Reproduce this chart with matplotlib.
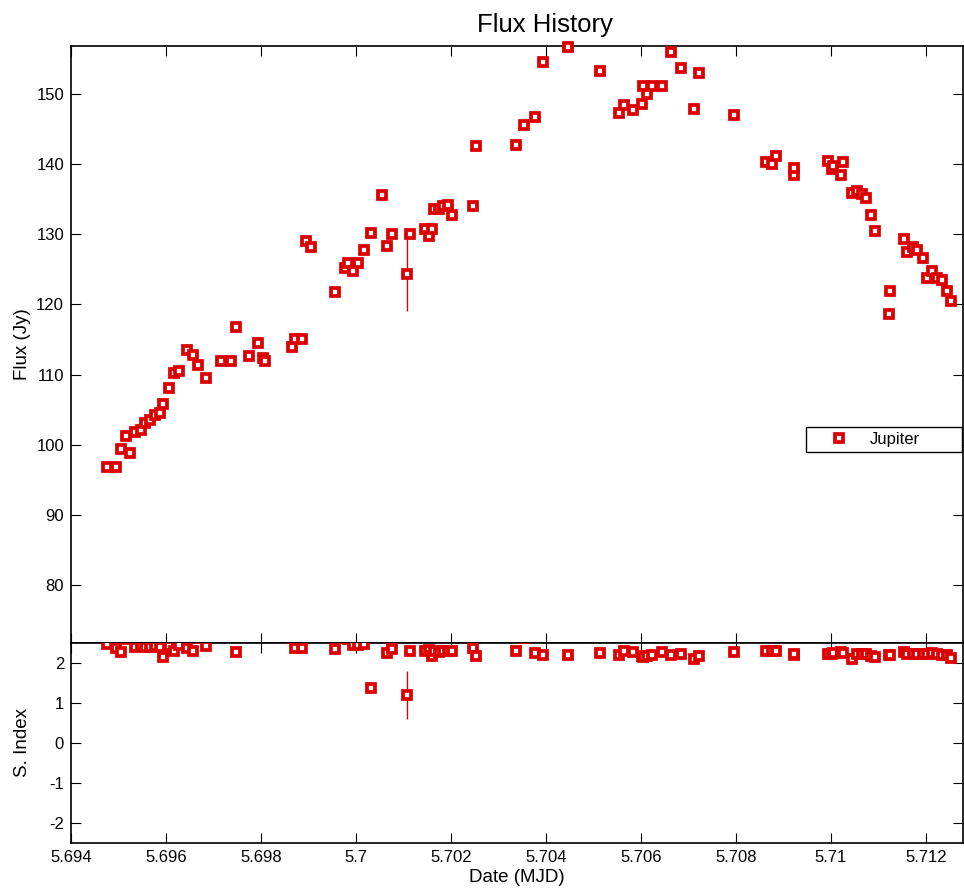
import numpy as np
from matplotlib import pyplot as plt

plt.rcParams['font.family'] = ['Liberation Sans', 'DejaVu Sans']
plt.rcParams['axes.unicode_minus'] = False

# MJD / 1e4
dates = [5.69476, 5.69495, 5.69505, 5.69515, 5.69524, 5.69535, 5.69547, 5.69556, 5.69566, 5.69577,
         5.69587, 5.69594, 5.69607, 5.69617, 5.69627, 5.69645, 5.69657, 5.69667, 5.69685, 5.69716,
         5.69736, 5.69747, 5.69775, 5.69794, 5.69804, 5.69808, 5.69865, 5.69872, 5.69887, 5.69895,
         5.69905, 5.69956, 5.69977, 5.69984, 5.69994, 5.70004, 5.70017, 5.70031, 5.70055, 5.70065,
         5.70075, 5.70107, 5.70114, 5.70146, 5.70153, 5.70159, 5.70164, 5.70174, 5.70184, 5.70194,
         5.70203, 5.70246, 5.70253, 5.70336, 5.70354, 5.70376, 5.70394, 5.70446, 5.70513, 5.70554,
         5.70564, 5.70583, 5.70603, 5.70604, 5.70613, 5.70624, 5.70644, 5.70663, 5.70684, 5.70712,
         5.70723, 5.70795, 5.70863, 5.70875, 5.70884, 5.70922, 5.70923, 5.70993, 5.71003, 5.71005,
         5.71022, 5.71025, 5.71044, 5.71054, 5.71065, 5.71074, 5.71084, 5.71093, 5.71123, 5.71124,
         5.71154, 5.71161, 5.71172, 5.71182, 5.71193, 5.71203, 5.71213, 5.71223, 5.71233, 5.71244,
         5.71253]

flux = [96.9, 96.8, 99.4, 101.3, 98.8, 101.8, 102.1, 103.1, 103.6, 104.3,
        104.5, 105.8, 108.1, 110.2, 110.5, 113.5, 112.8, 111.4, 109.5, 112.0,
        112.0, 116.8, 112.6, 114.5, 112.4, 112.0, 113.9, 115.1, 115.1, 129.0,
        128.2, 121.8, 125.2, 125.9, 124.7, 125.9, 127.7, 130.2, 135.6, 128.3,
        130.1, 124.4, 130.0, 130.7, 129.7, 130.7, 133.65, 133.6, 133.95, 134.1,
        132.7, 133.95, 142.6, 142.7, 145.6, 146.7, 154.5, 156.7, 153.3, 147.25,
        148.4, 147.7, 148.6, 151.1, 149.9, 151.05, 151.05, 155.9, 153.6, 147.9,
        153.0, 147.0, 140.3, 139.95, 141.1, 138.5, 139.4, 140.4, 139.3, 139.7,
        138.5, 140.3, 135.9, 136.2, 135.7, 135.2, 132.8, 130.5, 118.7, 121.9,
        129.25, 127.5, 128.25, 127.7, 126.6, 123.8, 124.75, 123.8, 123.5, 121.9,
        120.5]

s_index = [2.48, 2.37, 2.27, 2.60, 2.62, 2.41, 2.42, 2.40, 2.41, 2.42,
           2.41, 2.14, 2.43, 2.29, 2.45, 2.37, 2.31, 2.62, 2.42, 2.65,
           2.68, 2.27, 2.70, 2.66, 2.72, 2.64, 2.62, 2.37, 2.38, 2.66,
           2.70, 2.36, 2.62, 2.60, 2.44, 2.44, 2.48, 1.37, 2.65, 2.26,
           2.36, 1.20, 2.29, 2.30, 2.33, 2.17, 2.30, 2.28, 2.31, 2.30,
           2.29, 2.37, 2.18, 2.29, 2.62, 2.26, 2.19, 2.21, 2.24, 2.21,
           2.30, 2.27, 2.17, 2.14, 2.18, 2.21, 2.28, 2.21, 2.23, 2.10,
           2.17, 2.27, 2.29, 2.29, 2.29, 2.21, 2.22, 2.23, 2.22, 2.24,
           2.27, 2.25, 2.11, 2.22, 2.23, 2.22, 2.18, 2.16, 2.20, 2.20,
           2.27, 2.23, 2.22, 2.22, 2.22, 2.23, 2.24, 2.22, 2.20, 2.19,
           2.13]

# only one point has a visible error bar
err_date = [5.70107]
err_flux = [124.4]
err_flux_size = [5.3]
err_si = [1.20]
err_si_size = [0.6]

xticks = [5.694, 5.696, 5.698, 5.7, 5.702, 5.704, 5.706, 5.708, 5.71, 5.712]
xticklabels = ['5.694', '5.696', '5.698', '5.7', '5.702', '5.704', '5.706', '5.708', '5.71', '5.712']
flux_ticks = [80, 90, 100, 110, 120, 130, 140, 150]
si_ticks = [-2, -1, 0, 1, 2]

red = '#dd0000'
ms = 5.4
mew = 2.7

fig = plt.figure(figsize=(9.64, 8.88), dpi=100)
ax1 = fig.add_axes([0.07365, 0.2759, 0.92531, 0.6723])
ax2 = fig.add_axes([0.07365, 0.05068, 0.92531, 0.22523])

# flux panel
ax1.errorbar(err_date, err_flux, yerr=err_flux_size, fmt='none', ecolor=red, elinewidth=1.0, capsize=0)
ax1.plot(dates, flux, 's', color=red, mfc='white', mec=red, ms=ms, mew=mew,
         linestyle='none', label='Jupiter', clip_on=False, zorder=3)
ax1.set_xlim(5.694, 5.712779)
ax1.set_ylim(71.8, 156.8)
ax1.set_xticks(xticks)
ax1.set_xticklabels([])
ax1.set_yticks(flux_ticks)
ax1.set_ylabel('Flux (Jy)', fontsize=13.5)
ax1.set_title('Flux History', fontsize=18.5, x=0.531, pad=10)

leg = ax1.legend(loc='lower left', bbox_to_anchor=(0.824, 0.32, 0.175, 0.047), mode='expand',
                 borderaxespad=0, numpoints=1, fontsize=12, fancybox=False, framealpha=1,
                 edgecolor='black', handlelength=3.3, handletextpad=0.2, borderpad=0.3)
leg.get_frame().set_linewidth(1.0)

# spectral index panel
ax2.errorbar(err_date, err_si, yerr=err_si_size, fmt='none', ecolor=red, elinewidth=1.0, capsize=0)
ax2.plot(dates, s_index, 's', color=red, mfc='white', mec=red, ms=ms, mew=mew,
         linestyle='none', zorder=3)
ax2.set_xlim(5.694, 5.712779)
ax2.set_ylim(-2.5, 2.5)
ax2.set_xticks(xticks)
ax2.set_xticklabels(xticklabels)
ax2.set_yticks(si_ticks)
ax2.set_ylabel('S. Index', fontsize=13.5)
ax2.set_xlabel('Date (MJD)', fontsize=13.5, labelpad=3)

for ax in [ax1, ax2]:
    ax.tick_params(direction='in', top=True, right=True, length=7, width=0.8,
                   labelsize=12, colors='black', pad=5)
    for s in ax.spines.values():
        s.set_linewidth(1.2)

ax1.yaxis.set_label_coords(-0.045, 0.5)
ax2.yaxis.set_label_coords(-0.045, 0.5)

plt.savefig('out.png', dpi=100)
